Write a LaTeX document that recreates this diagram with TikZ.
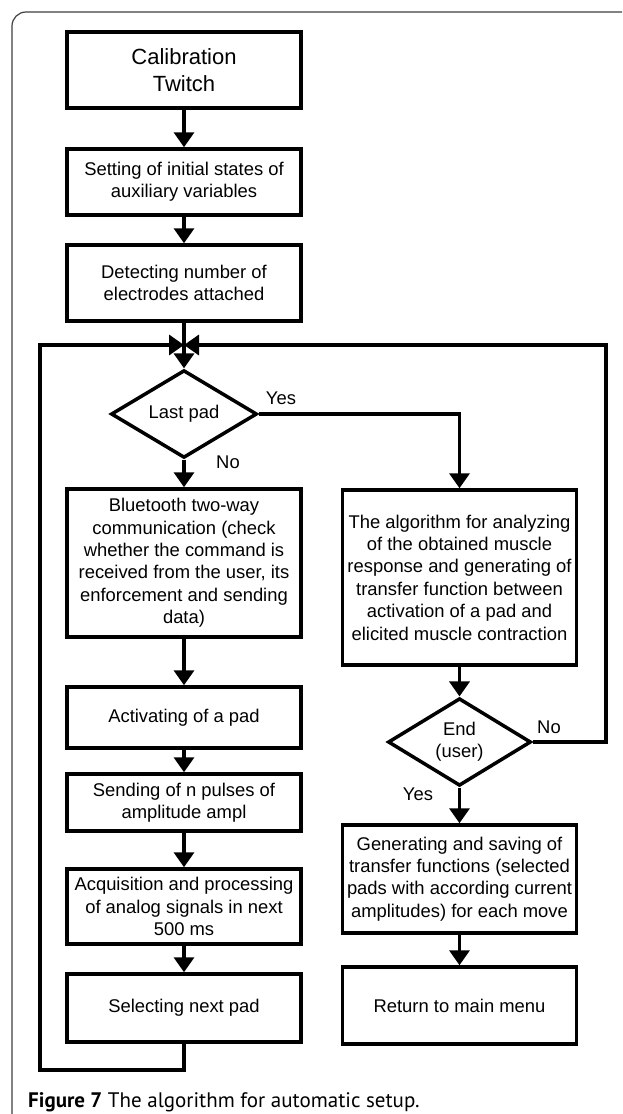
\documentclass[tikz,border=0pt]{standalone}
\usepackage{fontspec}
\setmainfont{Liberation Sans}
\newfontfamily\capfont{PT Sans}
\usetikzlibrary{arrows.meta,shapes.geometric}
\tikzset{
  flowbox/.style={draw, line width=3.5pt, rectangle, inner sep=0pt, align=center,
    minimum width=234pt, font=\fontsize{18.4}{22.4}\selectfont},
  decision/.style={draw, line width=3.5pt, diamond, inner sep=0pt, align=center,
    font=\fontsize{18.4}{22.4}\selectfont},
  conn/.style={line width=3.5pt},
  flowarrow/.style={conn, -{Triangle[length=15pt,width=20pt]}},
  lbl/.style={font=\fontsize{18.4}{22.4}\selectfont, inner sep=0pt},
}
\begin{document}
\begin{tikzpicture}[x=1pt,y=-1pt]
\useasboundingbox[fill=white] (0,0) rectangle (622,1114);
% outer frame
\draw[line width=1.2pt, black!75, rounded corners=14pt] (12,1114) -- (12,12) -- (622,12);
% left column
\node[flowbox, minimum height=76pt, font=\fontsize{22}{26.5}\selectfont] (calib) at (184,70) {Calibration\\Twitch};
\node[flowbox, minimum height=66pt] (set) at (184,182) {Setting of initial states of\\auxiliary variables};
\node[flowbox, minimum height=76pt] (det) at (184,283) {Detecting number of\\electrodes attached};
\node[decision, minimum width=146pt, minimum height=84pt] (last) at (184,414) {Last pad};
\node[flowbox, minimum height=148pt] (bt) at (184,563) {Bluetooth two-way\\communication (check\\whether the command is\\received from the user, its\\enforcement and sending\\data)};
\node[flowbox, minimum height=61pt] (act) at (184,717.5) {Activating of a pad};
\node[flowbox, minimum height=57pt] (send) at (184,802.5) {Sending of n pulses of\\amplitude ampl};
\node[flowbox, minimum height=75pt] (acq) at (184,906.5) {Acquisition and processing\\of analog signals in next\\500 ms};
\node[flowbox, minimum height=68pt] (sel) at (184,1008) {Selecting next pad};
% right column
\node[flowbox, minimum height=175pt] (rbox) at (459.5,577.5) {The algorithm for analyzing\\of the obtained muscle\\response and generating of\\transfer function between\\activation of a pad and\\elicited muscle contraction};
\node[decision, minimum width=143pt, minimum height=84pt] (end) at (459.5,742) {End\\(user)};
\node[flowbox, minimum height=108pt] (gen) at (459.5,879) {Generating and saving of\\transfer functions (selected\\pads with according current\\amplitudes) for each move};
\node[flowbox, minimum height=77pt] (ret) at (459.5,1005.5) {Return to main menu};
% coordinates
\coordinate (merge) at (184,345);
\coordinate (lb1) at (184,1070);
\coordinate (lb2) at (40,1070);
\coordinate (lb3) at (40,345);
\coordinate (rb1) at (606,742);
\coordinate (rb2) at (606,345);
% connectors
\draw[flowarrow] (calib.south) -- (set.north);
\draw[flowarrow] (set.south) -- (det.north);
\draw[flowarrow] (det.south) -- (last.north);
\draw[flowarrow] (last.south) -- (bt.north);
\draw[flowarrow] (bt.south) -- (act.north);
\draw[flowarrow] (act.south) -- (send.north);
\draw[flowarrow] (send.south) -- (acq.north);
\draw[flowarrow] (acq.south) -- (sel.north);
\draw[flowarrow, line join=miter] (sel.south) -- (lb1) -- (lb2) -- (lb3) -- (merge);
\draw[flowarrow, line join=miter] (last.east) -| (rbox.north);
\draw[flowarrow] (rbox.south) -- (end.north);
\draw[flowarrow] (end.south) -- (gen.north);
\draw[flowarrow] (gen.south) -- (ret.north);
\draw[flowarrow, line join=miter] (end.east) -- (rb1) -- (rb2) -- (merge);
% labels
\node[lbl] (yes1) at (281,398) {Yes};
\node[lbl] (no1) at (228,462) {No};
\node[lbl] (no2) at (549,727) {No};
\node[lbl] (yes2) at (418,794) {Yes};
% caption
\node[anchor=base west, inner sep=0pt, font=\capfont\fontsize{21}{24}\selectfont] (cap) at (28,1107) {\textbf{Figure 7} The algorithm for automatic setup.};
\end{tikzpicture}
\end{document}
